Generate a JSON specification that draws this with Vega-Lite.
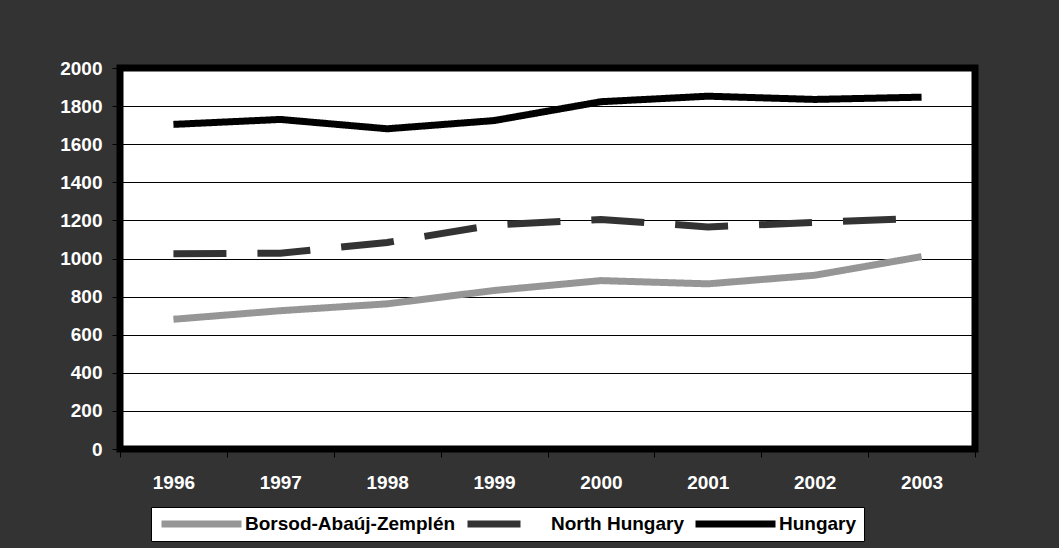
{
  "$schema": "https://vega.github.io/schema/vega-lite/v6.json",
  "width": 855,
  "height": 381,
  "autosize": {"type": "none"},
  "padding": {"left": 120, "top": 68, "right": 84, "bottom": 99},
  "background": "#333333",
  "data": {
    "values": [
      {"year": "1996", "series": "Borsod-Abaúj-Zemplén", "value": 681},
      {"year": "1997", "series": "Borsod-Abaúj-Zemplén", "value": 726},
      {"year": "1998", "series": "Borsod-Abaúj-Zemplén", "value": 762},
      {"year": "1999", "series": "Borsod-Abaúj-Zemplén", "value": 832},
      {"year": "2000", "series": "Borsod-Abaúj-Zemplén", "value": 884},
      {"year": "2001", "series": "Borsod-Abaúj-Zemplén", "value": 867},
      {"year": "2002", "series": "Borsod-Abaúj-Zemplén", "value": 912},
      {"year": "2003", "series": "Borsod-Abaúj-Zemplén", "value": 1010},
      {"year": "1996", "series": "North Hungary", "value": 1025},
      {"year": "1997", "series": "North Hungary", "value": 1028},
      {"year": "1998", "series": "North Hungary", "value": 1084},
      {"year": "1999", "series": "North Hungary", "value": 1176},
      {"year": "2000", "series": "North Hungary", "value": 1205},
      {"year": "2001", "series": "North Hungary", "value": 1166},
      {"year": "2002", "series": "North Hungary", "value": 1189},
      {"year": "2003", "series": "North Hungary", "value": 1212},
      {"year": "1996", "series": "Hungary", "value": 1704},
      {"year": "1997", "series": "Hungary", "value": 1730},
      {"year": "1998", "series": "Hungary", "value": 1681},
      {"year": "1999", "series": "Hungary", "value": 1724},
      {"year": "2000", "series": "Hungary", "value": 1823},
      {"year": "2001", "series": "Hungary", "value": 1852},
      {"year": "2002", "series": "Hungary", "value": 1835},
      {"year": "2003", "series": "Hungary", "value": 1847}
    ]
  },
  "mark": {"type": "line", "strokeWidth": 7, "strokeCap": "butt"},
  "encoding": {
    "x": {
      "field": "year", "type": "ordinal", "title": null,
      "scale": {"paddingInner": 0, "paddingOuter": 0},
      "axis": {
        "domain": false, "grid": false, "tickBand": "extent",
        "tickColor": "black", "tickSize": 8, "tickWidth": 1,
        "labelAngle": 0, "labelColor": "white", "labelFont": "Liberation Sans",
        "labelFontWeight": "bold", "labelFontSize": 19, "labelPadding": 16
      }
    },
    "y": {
      "field": "value", "type": "quantitative", "title": null,
      "scale": {"domain": [0, 2000], "nice": false},
      "axis": {
        "values": [0, 200, 400, 600, 800, 1000, 1200, 1400, 1600, 1800, 2000],
        "format": "d",
        "domain": false, "grid": true, "gridColor": "black", "gridWidth": 1, "gridOpacity": 1,
        "tickColor": "black", "tickSize": 8, "tickWidth": 1,
        "labelColor": "white", "labelFont": "Liberation Sans",
        "labelFontWeight": "bold", "labelFontSize": 19, "labelPadding": 10
      }
    },
    "color": {
      "field": "series", "type": "nominal", "title": null,
      "scale": {
        "domain": ["Borsod-Abaúj-Zemplén", "North Hungary", "Hungary"],
        "range": ["#969696", "#333333", "#000000"]
      },
      "legend": {
        "orient": "none", "legendX": 31, "legendY": 439,
        "direction": "horizontal",
        "fillColor": "white", "strokeColor": "black",
        "padding": 7, "clipHeight": 20,
        "symbolType": "M-1,0H7", "symbolSize": 400, "symbolStrokeWidth": 7,
        "labelOffset": 60, "columnPadding": 8,
        "labelColor": "black", "labelFont": "Liberation Sans",
        "labelFontWeight": "bold", "labelFontSize": 19, "labelLimit": 400,
        "encode": {
          "symbols": {
            "update": {
              "strokeDash": {"signal": "datum.value === 'North Hungary' ? [53, 31] : [1, 0]"}
            }
          }
        }
      }
    },
    "strokeDash": {
      "condition": {"test": "datum.series === 'North Hungary'", "value": [53, 31]},
      "value": [1, 0]
    }
  },
  "config": {
    "view": {"fill": "white", "stroke": "black", "strokeWidth": 7}
  }
}
